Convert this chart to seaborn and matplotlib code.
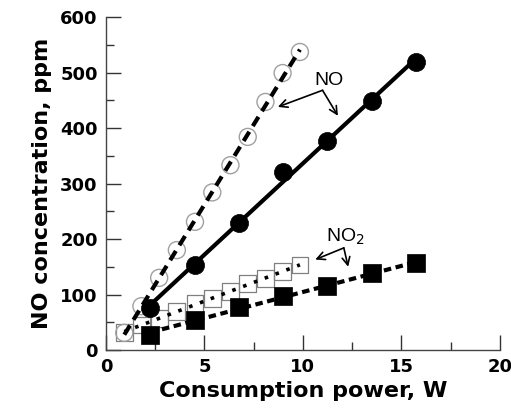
import numpy as np
import pandas as pd
import matplotlib
matplotlib.use("Agg")
import matplotlib.pyplot as plt
from matplotlib.ticker import MultipleLocator
import seaborn as sns

# ---- data ----
x_open = [0.93, 1.8, 2.7, 3.6, 4.52, 5.4, 6.32, 7.2, 8.1, 8.97, 9.85]
no_open = [31, 79, 130, 180, 231, 284, 333, 384, 447, 499, 537]
no2_open = [32, 45, 57, 69, 84, 93, 105, 120, 129, 141, 153]

x_filled = [2.25, 4.5, 6.75, 9.0, 11.25, 13.5, 15.75]
no_filled = [75, 153, 229, 321, 377, 449, 519]
no2_filled = [27, 54, 78, 98, 115, 138, 156]

x_ticks = [0, 5, 10, 15, 20]
y_ticks = [0, 100, 200, 300, 400, 500, 600]

df_open = pd.DataFrame({"power": x_open, "NO": no_open, "NO2": no2_open})
df_filled = pd.DataFrame({"power": x_filled, "NO": no_filled, "NO2": no2_filled})

sns.set_style("ticks")
plt.rcParams["font.family"] = ["DejaVu Sans"]
plt.rcParams["text.color"] = "black"
plt.rcParams["axes.labelcolor"] = "black"
plt.rcParams["xtick.labelcolor"] = "black"
plt.rcParams["ytick.labelcolor"] = "black"

fig = plt.figure(figsize=(5.11, 4.13), dpi=100)
ax = fig.add_axes([0.2074, 0.1525, 0.7706, 0.8063])

# fitted lines
sns.regplot(data=df_open, x="power", y="NO", ax=ax, scatter=False, ci=None,
            line_kws=dict(color="black", lw=3, linestyle=(0, (2.6, 1.6)), zorder=3))
sns.regplot(data=df_filled, x="power", y="NO", ax=ax, scatter=False, ci=None,
            line_kws=dict(color="black", lw=3, linestyle="-", zorder=3))
sns.regplot(data=df_open, x="power", y="NO2", ax=ax, scatter=False, ci=None,
            line_kws=dict(color="black", lw=2.6, linestyle=(0, (1, 2.2)), zorder=3))
sns.regplot(data=df_filled, x="power", y="NO2", ax=ax, scatter=False, ci=None,
            line_kws=dict(color="black", lw=3, linestyle=(0, (1.8, 1.1)), zorder=3))

# markers
sns.scatterplot(data=df_open, x="power", y="NO2", ax=ax, marker="s", s=145,
                facecolor="none", edgecolor="#808080", linewidth=0.9, zorder=2)
sns.scatterplot(data=df_open, x="power", y="NO", ax=ax, marker="o", s=150,
                facecolor="none", edgecolor="#a0a0a0", linewidth=1.0, zorder=2)
sns.scatterplot(data=df_filled, x="power", y="NO", ax=ax, marker="o", s=170,
                color="black", edgecolor="black", linewidth=0.5, zorder=4)
sns.scatterplot(data=df_filled, x="power", y="NO2", ax=ax, marker="s", s=150,
                color="black", edgecolor="black", linewidth=0.5, zorder=4)

ax.set_xlim(0, 20)
ax.set_ylim(0, 600)
ax.set_xticks(x_ticks)
ax.set_yticks(y_ticks)
ax.xaxis.set_minor_locator(MultipleLocator(2.5))
ax.yaxis.set_minor_locator(MultipleLocator(50))
ax.tick_params(which="major", direction="in", length=11, width=1, color="#333333",
               labelcolor="black", labelsize=13, pad=6)
ax.tick_params(which="minor", direction="in", length=6, width=1, color="#333333")
for lab in ax.get_xticklabels() + ax.get_yticklabels():
    lab.set_fontweight("bold")
sns.despine(ax=ax)
for sp in ["left", "bottom"]:
    ax.spines[sp].set_color("#444444")
    ax.spines[sp].set_linewidth(1)

ax.set_xlabel("Consumption power, W", fontsize=16, fontweight="bold",
              labelpad=3, color="black")
ax.set_ylabel("NO concentration, ppm", fontsize=16, fontweight="bold",
              labelpad=6, color="black")

# annotations
arrow = dict(arrowstyle="->", color="black", lw=1.2, shrinkA=0, shrinkB=0,
             mutation_scale=14)
ann_font = ["Liberation Sans", "DejaVu Sans"]
ax.text(11.32, 485, "NO", fontsize=14, ha="center", va="center",
        family=ann_font, color="black")
ax.annotate("", xy=(8.73, 438), xytext=(11.0, 468), arrowprops=arrow)
ax.annotate("", xy=(11.78, 422), xytext=(11.0, 468), arrowprops=arrow)
ax.text(12.18, 204, "NO$_2$", fontsize=14, ha="center", va="center",
        family=ann_font, color="black")
ax.annotate("", xy=(10.63, 163), xytext=(12.08, 184), arrowprops=arrow)
ax.annotate("", xy=(12.3, 150), xytext=(12.08, 184), arrowprops=arrow)

fig.savefig("out.png", dpi=100)
